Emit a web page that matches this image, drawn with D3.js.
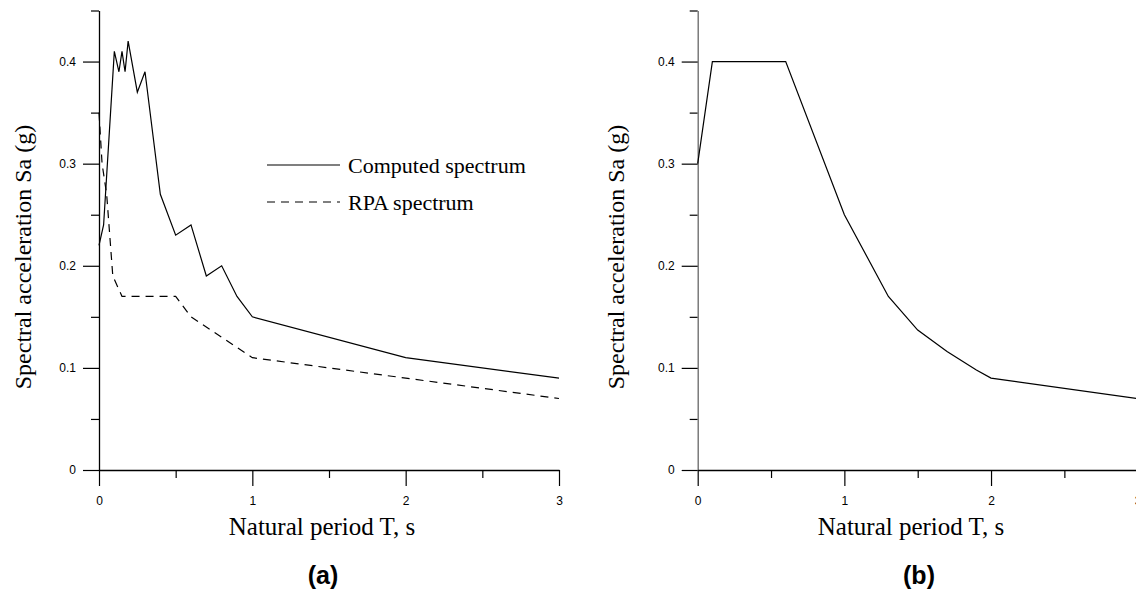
<!DOCTYPE html>
<html>
<head>
<meta charset="utf-8">
<script src="https://cdn.jsdelivr.net/npm/d3@7"></script>
<style>
  body { margin: 0; background: #fff; }
  svg { display: block; }
  .tick text { font-family: "Liberation Sans", Arial, sans-serif; font-size: 12px; fill: #000; }
  .title { font-family: "Liberation Serif", "Times New Roman", serif; font-size: 25px; fill: #000; }
  .ytitle { font-family: "Liberation Serif", "Times New Roman", serif; font-size: 24px; fill: #000; }
  .legend { font-family: "Liberation Serif", "Times New Roman", serif; font-size: 22px; fill: #000; }
  .panel { font-family: "Liberation Sans", Arial, sans-serif; font-size: 25px; font-weight: bold; fill: #000; }
</style>
</head>
<body>
<svg id="chart" width="1136" height="597"></svg>
<script>
// (a) computed vs RPA spectrum
var computed_T  = [0, 0.03, 0.1, 0.13, 0.15, 0.17, 0.19, 0.25, 0.3, 0.4, 0.5, 0.6, 0.7, 0.8, 0.9, 1.0, 2.0, 3.0];
var computed_Sa = [0.22, 0.24, 0.41, 0.39, 0.41, 0.39, 0.42, 0.37, 0.39, 0.27, 0.23, 0.24, 0.19, 0.2, 0.17, 0.15, 0.11, 0.09];
var rpa_T  = [0, 0.02, 0.05, 0.09, 0.15, 0.5, 0.6, 1.0, 2.0, 3.0];
var rpa_Sa = [0.35, 0.30, 0.27, 0.19, 0.17, 0.17, 0.15, 0.11, 0.09, 0.07];

// (b) design spectrum
var design_T  = [0, 0.1, 0.6, 1.0, 1.3, 1.5, 1.7, 1.9, 2.0, 3.0];
var design_Sa = [0.3, 0.4, 0.4, 0.25, 0.17, 0.137, 0.116, 0.098, 0.09, 0.07];

var yMajor = [0, 0.1, 0.2, 0.3, 0.4];
var yMinor = [0.05, 0.15, 0.25, 0.35, 0.45];
var xMajor = [0, 1, 2, 3];
var xMinor = [0.5, 1.5, 2.5];

var legendNames = ["Computed spectrum", "RPA spectrum"];

var svg = d3.select("#chart");

function zip(xs, ys) {
    return xs.map(function (x, i) { return [x, ys[i]]; });
}

// draws one panel, returns scales
function drawPanel(left, right, yAxisColor) {
    var x = d3.scaleLinear().domain([0, 3]).range([left, right]);
    var y = d3.scaleLinear().domain([0, 0.45]).range([470, 10.5]);

    var g = svg.append("g");

    // minor ticks first
    g.append("g")
        .attr("transform", "translate(" + left + ",0)")
        .call(d3.axisLeft(y).tickValues(yMinor).tickSize(8).tickSizeOuter(0).tickFormat(""))
        .call(function (s) { s.select(".domain").remove(); });
    g.append("g")
        .attr("transform", "translate(0,470)")
        .call(d3.axisBottom(x).tickValues(xMinor).tickSize(8).tickSizeOuter(0).tickFormat(""))
        .call(function (s) { s.select(".domain").remove(); });

    var yAx = g.append("g")
        .attr("transform", "translate(" + left + ",0)")
        .call(d3.axisLeft(y).tickValues(yMajor).tickSize(16).tickSizeOuter(0).tickPadding(7)
            .tickFormat(function (d) { return d; }));
    yAx.select(".domain").attr("stroke", yAxisColor).attr("stroke-width", 1.3);

    var xAx = g.append("g")
        .attr("transform", "translate(0,470)")
        .call(d3.axisBottom(x).tickValues(xMajor).tickSize(16).tickSizeOuter(0).tickPadding(10)
            .tickFormat(function (d) { return d; }));
    xAx.select(".domain").attr("stroke-width", 1.3);

    g.selectAll(".tick line").attr("stroke", "#000").attr("stroke-width", 1.2);

    return { x: x, y: y, g: g };
}

var pa = drawPanel(99, 559, "#000");
var pb = drawPanel(697.7, 1137.7, "#666");

function drawLine(p, data, dash) {
    var line = d3.line().x(function (d) { return p.x(d[0]); }).y(function (d) { return p.y(d[1]); });
    p.g.append("path")
        .datum(data)
        .attr("d", line)
        .attr("fill", "none")
        .attr("stroke", "#000")
        .attr("stroke-width", 1.2)
        .attr("stroke-dasharray", dash);
}

drawLine(pa, zip(computed_T, computed_Sa), null);
drawLine(pa, zip(rpa_T, rpa_Sa), "8,6");
drawLine(pb, zip(design_T, design_Sa), null);

// legend
var legend = svg.append("g");
legendNames.forEach(function (name, i) {
    var ly = 165 + i * 37;
    legend.append("line")
        .attr("x1", 267).attr("x2", 340).attr("y1", ly).attr("y2", ly)
        .attr("stroke", "#000").attr("stroke-width", 1.2)
        .attr("stroke-dasharray", i === 1 ? "8,6" : null);
    legend.append("text")
        .attr("class", "legend")
        .attr("x", 348).attr("y", ly + 8)
        .text(name);
});

// titles
svg.append("text").attr("class", "title").attr("x", 322).attr("y", 535)
    .attr("text-anchor", "middle").text("Natural period T, s");
svg.append("text").attr("class", "title").attr("x", 911).attr("y", 535)
    .attr("text-anchor", "middle").text("Natural period T, s");

svg.append("text").attr("class", "ytitle")
    .attr("transform", "translate(31,257) rotate(-90)")
    .attr("text-anchor", "middle").text("Spectral acceleration Sa (g)");
svg.append("text").attr("class", "ytitle")
    .attr("transform", "translate(624,257) rotate(-90)")
    .attr("text-anchor", "middle").text("Spectral acceleration Sa (g)");

svg.append("text").attr("class", "panel").attr("x", 323).attr("y", 584)
    .attr("text-anchor", "middle").text("(a)");
svg.append("text").attr("class", "panel").attr("x", 919).attr("y", 584)
    .attr("text-anchor", "middle").text("(b)");
</script>
</body>
</html>
